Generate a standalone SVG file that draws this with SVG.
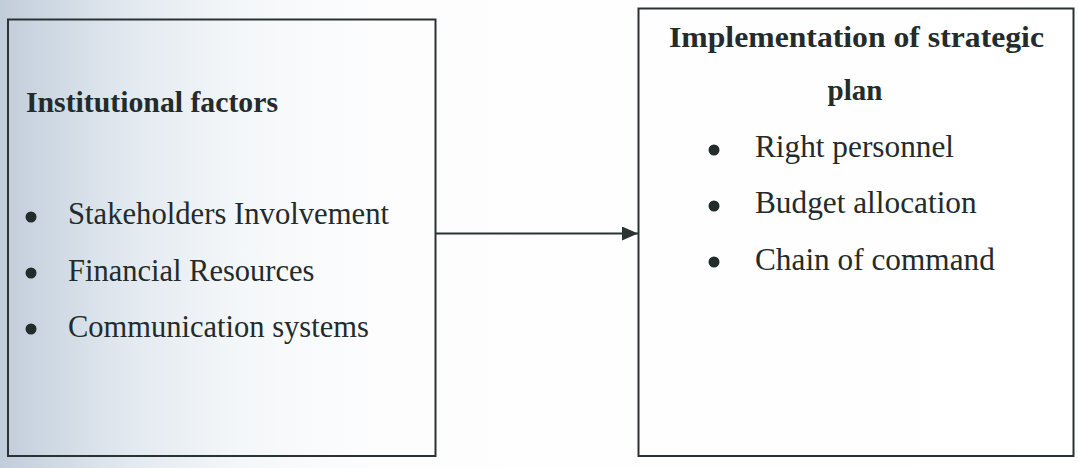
<svg xmlns="http://www.w3.org/2000/svg" width="1078" height="468" viewBox="0 0 1078 468">
<defs>
<linearGradient id="bg" x1="0" y1="0" x2="1" y2="0" gradientUnits="objectBoundingBox">
<stop offset="0" stop-color="#c2cdda"/>
<stop offset="0.04" stop-color="#cdd7e2"/>
<stop offset="0.12" stop-color="#e2e9f0"/>
<stop offset="0.22" stop-color="#f4f7f9"/>
<stop offset="0.35" stop-color="#fdfdfe"/>
<stop offset="1" stop-color="#ffffff"/>
</linearGradient>
<marker id="arrow" viewBox="0 0 16 14" refX="16" refY="7" markerWidth="16" markerHeight="14" markerUnits="userSpaceOnUse" orient="auto">
<path d="M0,0 L16,7 L0,14 Z" fill="#2a3333"/>
</marker>
<style>
.box{fill:none;stroke:#2a3333;stroke-width:2}
.title{font-family:"Liberation Serif","Times New Roman",serif;font-weight:bold;font-size:29px;fill:#232b2b}
.item{font-family:"Liberation Serif","Times New Roman",serif;font-size:30.5px;fill:#232b2b}
.item2{font-family:"Liberation Serif","Times New Roman",serif;font-size:31.3px;fill:#232b2b}
.bullet{fill:#232b2b}
.conn{stroke:#2a3333;stroke-width:2;fill:none}
</style>
</defs>
<rect x="0" y="0" width="1078" height="468" fill="url(#bg)"/>
<g id="node-institutional">
<rect class="box" x="8" y="19.5" width="427.5" height="436.5"/>
<text class="title" x="26" y="112" textLength="252" lengthAdjust="spacingAndGlyphs">Institutional factors</text>
<circle class="bullet" cx="31" cy="217" r="5.5"/>
<text class="item" x="68" y="224" textLength="321" lengthAdjust="spacingAndGlyphs">Stakeholders Involvement</text>
<circle class="bullet" cx="31" cy="273" r="5.5"/>
<text class="item" x="68" y="281">Financial Resources</text>
<circle class="bullet" cx="31" cy="329" r="5.5"/>
<text class="item" x="68" y="337">Communication systems</text>
</g>
<g id="node-implementation">
<rect class="box" x="638.5" y="8.5" width="435" height="447.5"/>
<text class="title" x="669" y="47" textLength="375" lengthAdjust="spacingAndGlyphs">Implementation of strategic</text>
<text class="title" x="855" y="100" text-anchor="middle">plan</text>
<circle class="bullet" cx="714" cy="150" r="5.5"/>
<text class="item2" x="755" y="157" textLength="199" lengthAdjust="spacingAndGlyphs">Right personnel</text>
<circle class="bullet" cx="714" cy="206" r="5.5"/>
<text class="item2" x="755" y="213">Budget allocation</text>
<circle class="bullet" cx="714" cy="262" r="5.5"/>
<text class="item2" x="755" y="270">Chain of command</text>
</g>
<g id="connectors">
<line class="conn" x1="436" y1="233.5" x2="638" y2="233.5" marker-end="url(#arrow)"/>
</g>
</svg>
